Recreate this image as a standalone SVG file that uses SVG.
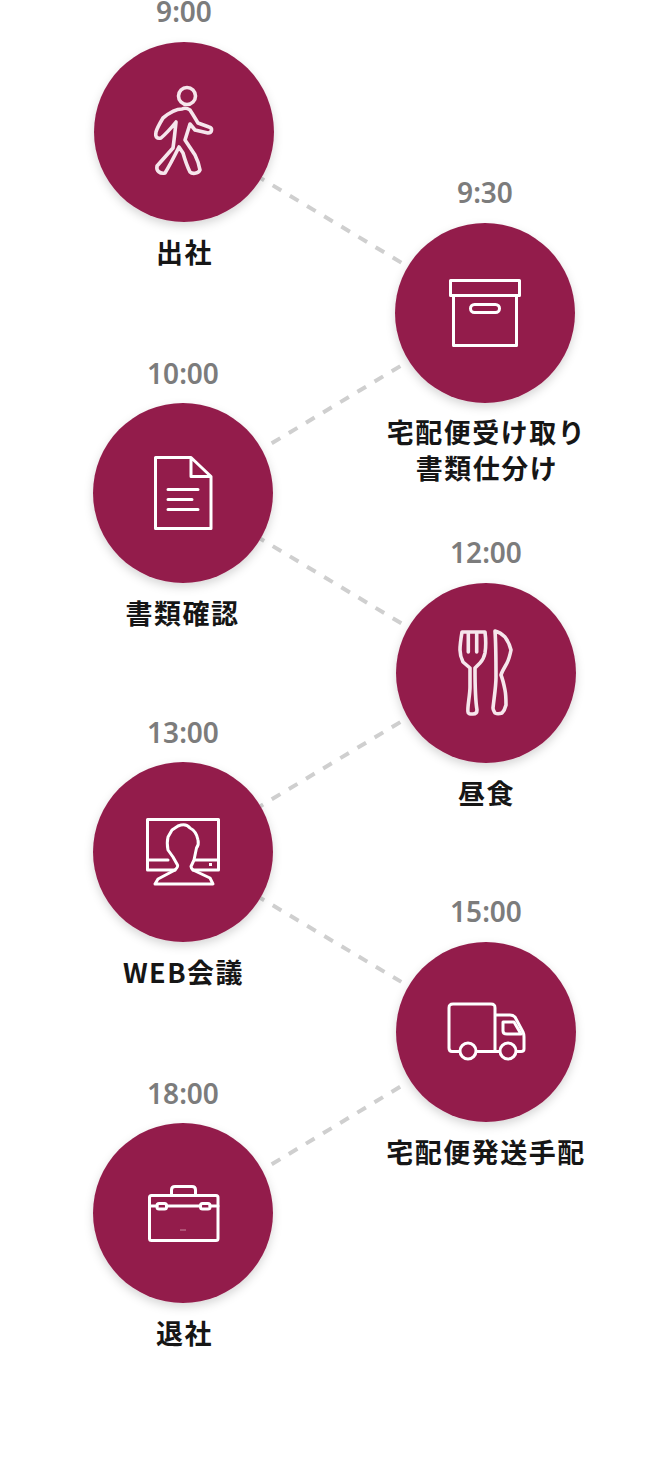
<svg xmlns="http://www.w3.org/2000/svg" width="670" height="1478" viewBox="0 0 670 1478">
<style>
.c{fill:#931f4c;filter:url(#s)}
.t{font:600 28px "Noto Sans","Open Sans",sans-serif;fill:#7c7c7c;text-anchor:middle}
.l{font:700 27px "Noto Sans CJK JP","Noto Sans",sans-serif;letter-spacing:1.500px;fill:#161616;text-anchor:middle}
.i{fill:none;stroke:#fff;stroke-width:3;stroke-linejoin:round;stroke-linecap:round}
.k{fill:none;stroke:#f6e6ec;stroke-width:3.6;stroke-linejoin:round;stroke-linecap:round}
#conn line{stroke:#cfcfcf;stroke-width:4;stroke-dasharray:10 10}
</style>
<defs><filter id="s" x="-20%" y="-20%" width="140%" height="140%"><feDropShadow dx="0" dy="4" stdDeviation="5" flood-color="#000" flood-opacity=".16"/></filter></defs>
<g id="conn">
<line x1="255.600" y1="175.100" x2="401.300" y2="262.600"/>
<line x1="271.700" y1="443.300" x2="400.300" y2="366.100"/>
<line x1="255.600" y1="535.800" x2="401.300" y2="623.300"/>
<line x1="254.600" y1="809.600" x2="400.300" y2="722.100"/>
<line x1="255.600" y1="895.100" x2="401.300" y2="981.900"/>
<line x1="271.700" y1="1164.300" x2="400.300" y2="1086.700"/>
</g>
<g id="n1"><text class="t" x="184" y="22">9:00</text><circle class="c" cx="184" cy="132" r="90"/>
<circle class="k" cx="187" cy="96" r="8.500"/>
<path class="k" d="M182 109C176 109 169 113 163 118C160 123 157 128 156 132C155 137 157 139 161 138C168 132 172 127 176 122C175 132 174 141 173 148L157 166C156 171 160 174 165 173C170 165 175 155 179 147L183 153C185 160 187 166 190 172C192 174 198 174 200 170C199 163 197 159 195 155L185 140L190 124L195 130L208 133C212 133 213 128 209 127L198 123C195 118 192 113 190 110C187 108 184 108 182 109Z"/>
<text class="l" x="184.500" y="263">出社</text></g>
<g id="n2"><text class="t" x="485" y="203">9:30</text><circle class="c" cx="485" cy="313" r="90"/>
<rect class="i" x="450.500" y="280.500" width="69" height="15"/><rect class="i" x="453.500" y="295.500" width="63" height="50"/><rect class="i" x="470.500" y="304.500" width="29" height="8" rx="4"/>
<text class="l" x="486.500" y="443">宅配便受け取り</text><text class="l" x="487" y="479">書類仕分け</text></g>
<g id="n3"><text class="t" x="183" y="384">10:00</text><circle class="c" cx="183" cy="493" r="90"/>
<path class="i" d="M191 457.500H155.500V528.500H211V476.500L191 457.500V476.500H211M168 489.500H198M168 499.500H192M168 509.500H198"/>
<text class="l" x="182.500" y="624">書類確認</text></g>
<g id="n4"><text class="t" x="486" y="563">12:00</text><circle class="c" cx="486" cy="673" r="90"/>
<path class="k" d="M462 632H485C486 640 486 647 485 653C484 658 482 661 480 663L475 668C475 680 475 698 477 710C477 713 475 714 473 714C470 714 468 714 468 712C467 709 470 695 470 687C470 680 470 675 470 668L463 662C461 658 460 654 460 650C460 644 461 638 462 632ZM468.300 632V652M476.700 632V652"/>
<path class="k" d="M495 631C499 632 502 634 505 637C508 641 510 646 511 650C510 655 509 659 507 663C505 667 502 671 501 675C503 680 504 685 505 690C506 695 506 700 506 705C505 709 504 711 502 713C499 714 497 714 495 713C494 711 493 710 493 708C494 698 496 687 496 677C496 660 496 645 495 631Z"/>
<text class="l" x="486.500" y="804">昼食</text></g>
<g id="n5"><text class="t" x="183" y="743">13:00</text><circle class="c" cx="183" cy="852" r="90"/>
<path class="i" d="M168 860H147.500V819.500H218.500V870H193M147.500 860V870H175M195 860H218.500"/>
<path class="i" d="M178 826C183 824 187 824 190 828C194 830 197 834 198 840C199 844 198 846 196.500 848L194 860L191 866.500C191 868 192 869 193 870L210 878L213 884H155L158 879L175 870C177 868 178 866 177.500 865L173 857L168 850C167 845 167 841 168 837L172 830Z"/>
<rect x="209" y="863" width="3" height="3" fill="#fff"/>
<text class="l" x="183.500" y="983">WEB会議</text></g>
<g id="n6"><text class="t" x="486" y="922">15:00</text><circle class="c" cx="486" cy="1032" r="90"/>
<path class="i" d="M459 1051.500H452C450 1051.500 449 1050 449 1048V1008C449 1005 450 1004 453 1004H491C494 1004 495 1005 495 1008V1051.500H477M495 1015H510C513 1015 514 1016 515 1017L523 1032C524 1034 524 1035 524 1037V1049C524 1051 523 1051.500 521 1051.500H517M499 1051.500H495"/>
<circle class="i" cx="468" cy="1051" r="8"/><circle class="i" cx="508" cy="1051" r="8"/>
<path class="i" d="M503 1022H514L521 1034H507C504 1034 503 1033 503 1031Z"/>
<text class="l" x="486" y="1163">宅配便発送手配</text></g>
<g id="n7"><text class="t" x="183" y="1104">18:00</text><circle class="c" cx="183" cy="1213" r="90"/>
<rect class="i" x="149.500" y="1195.500" width="68.500" height="45" rx="2"/>
<path class="i" d="M171.500 1195V1190C171.500 1187 173 1186.500 175 1186.500H192C194 1186.500 195.500 1187 195.500 1190V1195M149.500 1206H157M167 1206H200M210 1206H218"/>
<rect class="i" x="157" y="1203.500" width="9.500" height="5.500" rx="2"/><rect class="i" x="200.500" y="1203.500" width="9.500" height="5.500" rx="2"/>
<path d="M180 1230H186" stroke="#c9859f" stroke-width="1" fill="none"/>
<text class="l" x="184.500" y="1344">退社</text></g>
</svg>
